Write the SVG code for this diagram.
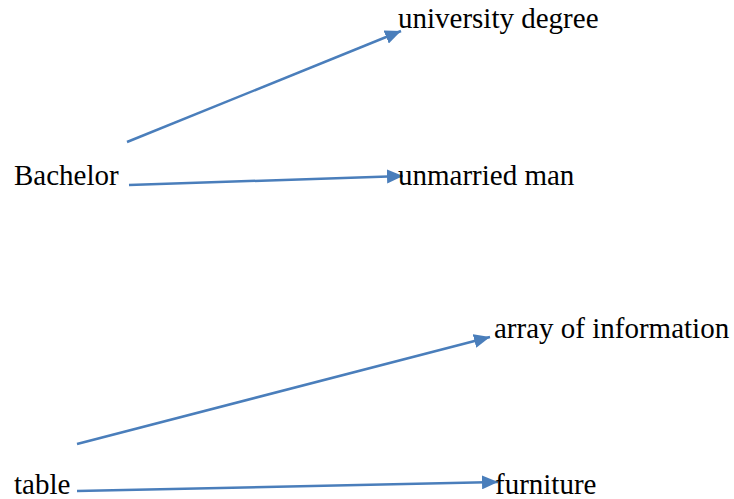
<svg xmlns="http://www.w3.org/2000/svg" width="734" height="499" viewBox="0 0 734 499">
<style>
text{font-family:"Liberation Serif","Times New Roman",serif;font-size:29px;fill:#000}
.c{stroke:#4a7ebb;stroke-width:2.5;fill:none;marker-end:url(#ah)}
</style>
<defs>
<marker id="ah" markerUnits="userSpaceOnUse" markerWidth="16" markerHeight="14" refX="16" refY="7" orient="auto">
<path d="M0,0 L16,7 L0,14 Z" fill="#4a7ebb"/>
</marker>
</defs>
<rect width="734" height="499" fill="#fff"/>
<g id="connectors">
<line class="c" x1="127" y1="142" x2="401" y2="31"/>
<line class="c" x1="129" y1="185" x2="403" y2="176"/>
<line class="c" x1="77" y1="444" x2="490" y2="337"/>
<line class="c" x1="77" y1="491" x2="498" y2="482"/>
</g>
<g id="bachelor"><text x="14" y="185">Bachelor</text></g>
<g id="university-degree"><text x="398" y="28">university degree</text></g>
<g id="unmarried-man"><text x="398" y="185">unmarried man</text></g>
<g id="table"><text x="14" y="494">table</text></g>
<g id="array-of-information"><text x="494" y="338">array of information</text></g>
<g id="furniture"><text x="495" y="494">furniture</text></g>
</svg>
